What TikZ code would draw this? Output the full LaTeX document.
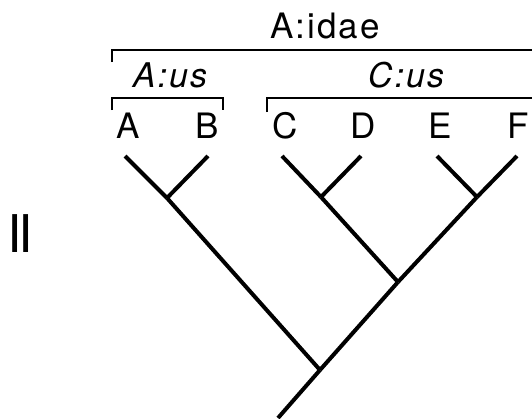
\documentclass[tikz,border=0pt]{standalone}
\usepackage{fontspec}
\setmainfont{TeX Gyre Heros}
\newfontfamily\hvsp[LetterSpace=6]{TeX Gyre Heros}
\begin{document}
\begin{tikzpicture}[x=1pt,y=-1pt,
  branch/.style={line width=4pt},
  brk/.style={line width=1.4pt},
  lbl/.style={inner sep=0pt,anchor=base,font=\fontsize{35}{35}\selectfont},
  fam/.style={inner sep=0pt,anchor=base,font=\fontsize{35}{35}\hvsp},
  grp/.style={inner sep=0pt,anchor=base,font=\fontsize{34}{34}\hvsp\itshape}]
\useasboundingbox (0,0) rectangle (532,418);
% tree points
\coordinate (A) at (125,156);
\coordinate (B) at (208,156);
\coordinate (C) at (282,156);
\coordinate (D) at (361,156);
\coordinate (E) at (437,156);
\coordinate (F) at (517,156);
\coordinate (AB) at (167,198);
\coordinate (CD) at (321,197);
\coordinate (EF) at (477,197);
\coordinate (CDEF) at (398,282);
\coordinate (R) at (320,370);
\coordinate (base) at (278,418);
\draw[branch] (A) -- (AB);
\draw[branch] (B) -- (AB);
\draw[branch] (AB) -- (R);
\draw[branch] (C) -- (CD);
\draw[branch] (D) -- (CD);
\draw[branch] (CD) -- (CDEF);
\draw[branch] (E) -- (EF);
\draw[branch] (F) -- (EF);
\draw[branch] (EF) -- (CDEF);
\draw[branch] (CDEF) -- (R);
\draw[branch] (R) -- (base);
% tip labels
\node[lbl] (lA) at (128,138) {A};
\node[lbl] (lB) at (207,138) {B};
\node[lbl] (lC) at (285,138) {C};
\node[lbl] (lD) at (363,138) {D};
\node[lbl] (lE) at (440,138) {E};
\node[lbl] (lF) at (518,138) {F};
% brackets
\coordinate (t1) at (112,62);
\coordinate (t2) at (112,50);
\coordinate (t3) at (532,50);
\draw[brk] (t1) -- (t2) -- (t3);
\coordinate (a1) at (112,110);
\coordinate (a2) at (112,98);
\coordinate (a3) at (223,98);
\coordinate (a4) at (223,110);
\draw[brk] (a1) -- (a2) -- (a3) -- (a4);
\coordinate (c1) at (267,112);
\coordinate (c2) at (267,98);
\coordinate (c3) at (532,98);
\draw[brk] (c1) -- (c2) -- (c3);
% group labels
\node[fam] (famlbl) at (325,38) {A:idae};
\node[grp] (gA) at (170,87) {A:us};
\node[grp] (gC) at (406,87) {C:us};
% numeral
\node[inner sep=0pt,anchor=base,font=\fontsize{52}{52}\selectfont] (num) at (20,252) {I\kern-3pt I};
\end{tikzpicture}
\end{document}
